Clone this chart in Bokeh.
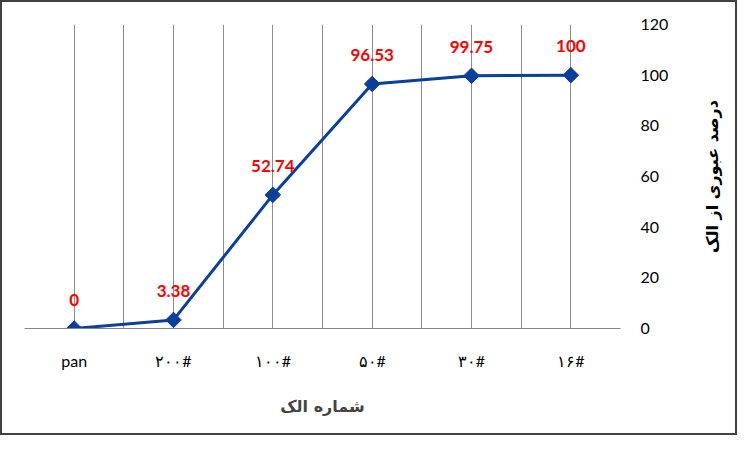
import math
from bokeh.plotting import figure
from bokeh.layouts import row
from bokeh.models import ColumnDataSource, LabelSet, FixedTicker, Label
from bokeh.core.properties import value
from bokeh.embed import file_html
from bokeh.resources import INLINE

categories = ["pan", "۲۰۰#", "۱۰۰#", "۵۰#", "۳۰#", "۱۶#"]
passing = [0, 3.38, 52.74, 96.53, 99.75, 100]
labels = ["0", "3.38", "52.74", "96.53", "99.75", "100"]
y_ticks = [0, 20, 40, 60, 80, 100, 120]
x_title = "شماره الک"
y_title = "درصد عبوری از الک"

xs = list(range(len(categories)))
src = ColumnDataSource(dict(x=xs, y=passing, lab=labels))

p = figure(width=670, height=431, output_backend="svg", toolbar_location=None,
           x_range=(-0.5, len(categories) - 0.5), y_range=(0, 120),
           y_axis_location="right",
           min_border_left=22, min_border_right=52, min_border_top=22, min_border_bottom=105)
p.outline_line_color = None
p.background_fill_color = "white"
p.border_fill_color = "white"

p.line("x", "y", source=src, line_color="#0a3f9c", line_width=3)
p.scatter("x", "y", source=src, marker="square", angle=math.pi / 4, size=11,
          fill_color="#0a3f9c", line_color="#0a3f9c")

lab = LabelSet(x="x", y="y", text="lab", source=src, text_align="center", text_baseline="middle",
               y_offset=29, text_color="red", text_font=value("Lato"), text_font_style="bold",
               text_font_size="17px")
p.add_layout(lab)

# x axis
p.xaxis.ticker = FixedTicker(ticks=xs)
p.xaxis.major_label_overrides = {i: c for i, c in enumerate(categories)}
p.xaxis.axis_line_color = "#868686"
p.xaxis.major_tick_line_color = None
p.xaxis.minor_tick_line_color = None
p.xaxis.major_label_standoff = 16
p.xaxis.major_label_text_font = "Lato"
p.xaxis.major_label_text_font_size = "16px"
p.xaxis.major_label_text_color = "black"
p.xaxis.axis_label = x_title
p.xaxis.axis_label_text_font = "DejaVu Sans"
p.xaxis.axis_label_text_font_style = "bold"
p.xaxis.axis_label_text_font_size = "16px"
p.xaxis.axis_label_standoff = 24

# y axis (tick labels)
p.yaxis.ticker = FixedTicker(ticks=y_ticks)
p.yaxis.axis_line_color = None
p.yaxis.major_tick_line_color = None
p.yaxis.minor_tick_line_color = None
p.yaxis.major_label_standoff = 14
p.yaxis.major_label_text_font = "Lato"
p.yaxis.major_label_text_font_size = "16px"
p.yaxis.major_label_text_color = "black"

# grids: vertical lines at category centers and boundaries
p.ygrid.grid_line_color = None
half = [i / 2 - 0.5 for i in range(2 * len(categories) + 1)]
p.xgrid.ticker = FixedTicker(ticks=half)
p.xgrid.grid_line_color = "#8c8c8c"
p.xgrid.grid_line_width = 1

# narrow side panel holding the rotated y-axis title, frame aligned with p
side = figure(width=63, height=431, output_backend="svg", toolbar_location=None,
              x_range=(0, 63), y_range=(0, 120),
              min_border_left=0, min_border_right=0, min_border_top=22, min_border_bottom=105)
side.axis.visible = False
side.grid.visible = False
side.outline_line_color = None
side.background_fill_color = "white"
side.border_fill_color = "white"
side.add_layout(Label(x=40, y=60, text=y_title, angle=math.pi / 2, text_align="center",
                      text_baseline="middle", text_font="DejaVu Sans", text_font_style="bold",
                      text_font_size="16px", text_color="black"))

layout = row(p, side, styles={"border": "2px solid #404040", "background-color": "white"})

open("out.html", "w").write(file_html(layout, INLINE))
